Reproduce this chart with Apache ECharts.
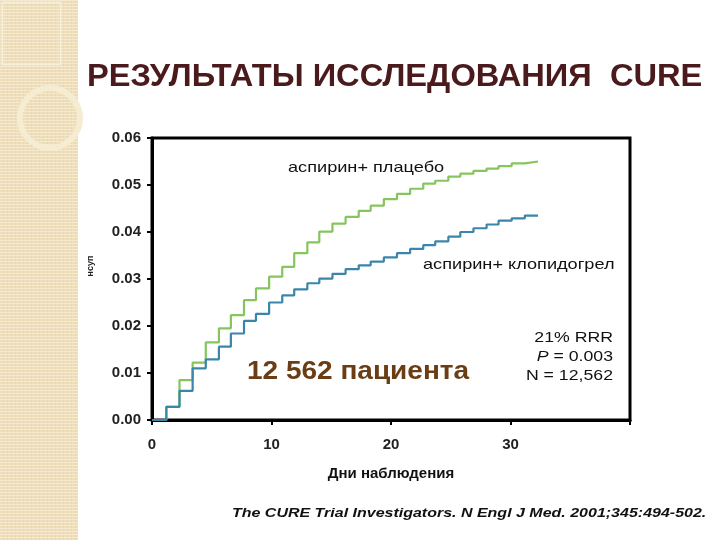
<!DOCTYPE html>
<html>
<head>
<meta charset="utf-8">
<script src="https://cdn.jsdelivr.net/npm/echarts@6/dist/echarts.min.js"></script>
<style>
  html, body { margin: 0; padding: 0; background: #fff; }
  #chart { width: 720px; height: 540px; }
</style>
</head>
<body>
<div id="chart"></div>
<script>
// Дни наблюдения (точки ступенек)
var dni = [0, 1.2, 2.3, 3.4, 4.5, 5.6, 6.6, 7.7, 8.7, 9.8, 10.9, 11.9, 13.0, 14.0, 15.1, 16.2,
  17.3, 18.3, 19.4, 20.5, 21.6, 22.7, 23.7, 24.8, 25.8, 26.9, 28.0, 29.0, 30.1, 31.2, 32.3];

// аспирин + плацебо
var placebo = [0, 0.0028, 0.0085, 0.0122, 0.0165, 0.0195, 0.0223, 0.0255, 0.0280, 0.0305, 0.0326,
  0.0355, 0.0378, 0.0401, 0.0418, 0.0432, 0.0445, 0.0456, 0.0470, 0.0481, 0.0492, 0.0503, 0.0509,
  0.0518, 0.0524, 0.0530, 0.0535, 0.0540, 0.0546, 0.0550, 0.0550];

// аспирин + клопидогрел
var klopidogrel = [0, 0.0028, 0.0062, 0.0110, 0.0129, 0.0156, 0.0184, 0.0211, 0.0226, 0.0250, 0.0265,
  0.0278, 0.0291, 0.0301, 0.0311, 0.0321, 0.0329, 0.0337, 0.0346, 0.0355, 0.0364, 0.0372, 0.0380,
  0.0390, 0.0400, 0.0408, 0.0416, 0.0424, 0.0429, 0.0435, 0.0435];

var xTicks = [0, 10, 20, 30];

var shrift = "'Liberation Sans', Arial, sans-serif";
// текст на слайде немного растянут по горизонтали
var rast = 1.21;

function pary(ys) {
  return dni.map(function (d, i) { return [d, ys[i]]; });
}

function nadpis(x, y, text, font, opts) {
  opts = opts || {};
  return {
    type: "text", x: x, y: y, scaleX: opts.scaleX || rast,
    style: {
      text: text, fill: opts.fill || "#111", font: font,
      align: opts.align || "left", verticalAlign: "middle",
      rich: opts.rich
    }
  };
}

// полосатая текстура для левой полосы
function tekstura() {
  var c = document.createElement("canvas");
  c.width = 4; c.height = 3;
  var ctx = c.getContext("2d");
  ctx.fillStyle = "#eedfba";
  ctx.fillRect(0, 0, 4, 3);
  ctx.fillStyle = "#f5ead0";
  ctx.fillRect(0, 0, 4, 1);
  ctx.fillStyle = "#e8d7ae";
  ctx.fillRect(3, 1, 1, 2);
  return c;
}

var chart = echarts.init(document.getElementById("chart"));

chart.setOption({
  backgroundColor: "#ffffff",
  animation: false,
  textStyle: { fontFamily: shrift },
  grid: {
    left: 152, right: 90, top: 138, bottom: 120,
    show: true, borderColor: "#000", borderWidth: 3, backgroundColor: "transparent"
  },
  xAxis: {
    type: "value",
    min: 0, max: 40, interval: 10,
    name: "Дни наблюдения",
    nameLocation: "middle",
    nameGap: 46,
    nameTextStyle: { fontFamily: shrift, fontWeight: "bold", fontSize: 15, color: "#111" },
    axisLine: { show: true, lineStyle: { color: "#000", width: 3 } },
    axisTick: { show: true, length: 5, lineStyle: { color: "#000", width: 2 } },
    axisLabel: {
      fontFamily: shrift, fontWeight: "bold", fontSize: 15, color: "#222", margin: 17,
      formatter: function (v) { return xTicks.indexOf(v) >= 0 ? String(v) : ""; }
    },
    splitLine: { show: false }
  },
  yAxis: {
    type: "value",
    min: 0, max: 0.06, interval: 0.01,
    axisLine: { show: true, lineStyle: { color: "#000", width: 3 } },
    axisTick: { show: true, length: 5, lineStyle: { color: "#000", width: 2 } },
    axisLabel: {
      fontFamily: shrift, fontWeight: "bold", fontSize: 15, color: "#222", margin: 11,
      formatter: function (v) { return v.toFixed(2); }
    },
    splitLine: { show: false }
  },
  series: [
    {
      name: "аспирин+ плацебо",
      type: "line",
      step: "end",
      showSymbol: false,
      data: pary(placebo),
      lineStyle: { color: "#86c55e", width: 2.2 },
      itemStyle: { color: "#86c55e" }
    },
    {
      name: "аспирин+ клопидогрел",
      type: "line",
      step: "end",
      showSymbol: false,
      data: pary(klopidogrel),
      lineStyle: { color: "#3a86aa", width: 2.2 },
      itemStyle: { color: "#3a86aa" }
    }
  ],
  graphic: [
    // декоративная полоса слева
    { type: "rect", left: 0, top: 0, shape: { width: 78, height: 540 }, style: { fill: { image: tekstura(), repeat: "repeat" } }, z: -10 },
    { type: "rect", left: 0, top: 0, shape: { width: 58, height: 62 }, style: { fill: "none", stroke: "#f7efd9", lineWidth: 1.5 }, z: -9 },
    { type: "circle", shape: { cx: 50, cy: 118, r: 30 }, style: { fill: "none", stroke: "#f6ecd2", lineWidth: 6 }, z: -9 },
    // заголовок
    nadpis(87, 77, "РЕЗУЛЬТАТЫ ИССЛЕДОВАНИЯ  CURE", "bold 32px " + shrift, { fill: "#4a1a1c", scaleX: 1.02 }),
    // подпись оси Y
    {
      type: "text", x: 91, y: 266, rotation: Math.PI / 2,
      style: { text: "нсуп", fill: "#222", font: "bold 9px " + shrift, align: "center", verticalAlign: "middle" }
    },
    // подписи кривых
    nadpis(288, 168, "аспирин+ плацебо", "15px " + shrift),
    nadpis(423, 265, "аспирин+ клопидогрел", "15px " + shrift),
    nadpis(247, 372, "12 562 пациента", "bold 25px " + shrift, { fill: "#6b3d14", scaleX: 1.12 }),
    nadpis(613, 338, "21% RRR", "15px " + shrift, { align: "right", scaleX: 1.18 }),
    nadpis(613, 357, "{i|P} = 0.003", "15px " + shrift, {
      align: "right", scaleX: 1.18,
      rich: { i: { fontStyle: "italic", fontSize: 15, fontFamily: shrift } }
    }),
    nadpis(613, 376, "N = 12,562", "15px " + shrift, { align: "right", scaleX: 1.18 }),
    // источник
    nadpis(232, 513, "The CURE Trial Investigators. N Engl J Med. 2001;345:494-502.", "italic bold 13px " + shrift, { scaleX: 1.23 })
  ]
});
</script>
</body>
</html>
